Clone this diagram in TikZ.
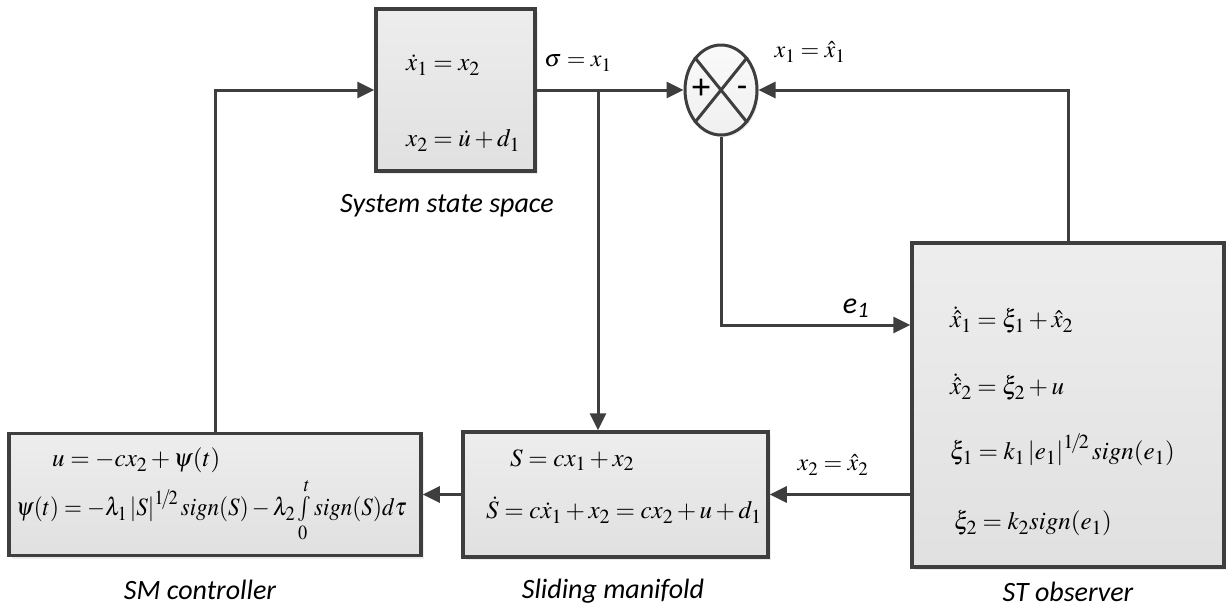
\documentclass[tikz,border=0pt]{standalone}
\usepackage{mathptmx}
\usepackage{fontspec}
\setmainfont{Liberation Serif}
\newfontfamily\capfont{Carlito}
\usetikzlibrary{arrows.meta,shapes.geometric,shadows}
\DeclareMathSizes{25}{25}{20}{16}
\DeclareMathSizes{24}{24}{19}{15}
\definecolor{ink}{HTML}{3E3E3E}
\tikzset{
  blk/.style={draw=ink, line width=3.5pt, top color=gray!14, bottom color=gray!24,
    drop shadow={opacity=0.15, shadow xshift=3pt, shadow yshift=-3pt},
    inner sep=0pt},
  arr/.style={draw=ink, line width=3pt, -{Triangle[length=17pt,width=16pt]}},
  ln/.style={draw=ink, line width=3pt},
  eq/.style={anchor=west, inner sep=0pt, font=\fontsize{25}{30}\selectfont},
  lbl/.style={inner sep=0pt, font=\fontsize{24}{28}\selectfont},
  captext/.style={inner sep=0pt, font=\capfont\itshape\fontsize{28}{32}\selectfont},
}
\begin{document}
\begin{tikzpicture}[x=1pt,y=-1pt]
\useasboundingbox (0,0) rectangle (1226,611);

% blocks
\node[blk, minimum width=159pt, minimum height=162pt] (sys) at (455.5,90) {};
\node[blk, minimum width=312pt, minimum height=324pt] (obs) at (1068,405) {};
\node[blk, minimum width=305pt, minimum height=125pt] (sm) at (615.5,494.5) {};
\node[blk, minimum width=412pt, minimum height=122pt] (ctrl) at (215,494.5) {};

% summing junction
\node[ellipse, draw=ink, line width=3pt, top color=gray!4, bottom color=gray!12,
  minimum width=72pt, minimum height=90pt, inner sep=0pt,
  drop shadow={opacity=0.15, shadow xshift=2pt, shadow yshift=-2pt}] (sum) at (721,90) {};
\draw[ln] (sum.north west) -- (sum.south east);
\draw[ln] (sum.north east) -- (sum.south west);
\node[inner sep=0pt, font=\fontsize{36}{36}\selectfont\bfseries] (plus) at ([xshift=-20pt,yshift=1pt]sum.center) {+};
\node[inner sep=0pt, font=\fontsize{30}{30}\selectfont\bfseries] (minus) at ([xshift=21pt]sum.center) {-};

% block contents
\node[eq] (s1) at (406,65) {$\dot{x}_1 = x_2$};
\node[eq] (s2) at (406,140) {$x_2 = \dot{u} + d_1$};

\node[eq] (o1) at (950,320) {$\dot{\hat{x}}_1 = \xi_1 + \hat{x}_2$};
\node[eq] (o2) at (950,387) {$\dot{\hat{x}}_2 = \xi_2 + u$};
\node[eq] (o3) at (950,450) {$\xi_1 = k_1\left|e_1\right|^{1\!/\!2} sign(e_1)$};
\node[eq] (o4) at (954,523) {$\xi_2 = k_2 sign(e_1)$};

\node[eq] (m1) at (510,460) {$S = cx_1 + x_2$};
\node[eq] (m2) at (486,510) {$\dot{S} = c\dot{x}_1 + x_2 = cx_2 + u + d_1$};

\node[eq] (c1) at (52,460) {$u = -cx_2 + \psi(t)$};
\node[eq, xscale=0.92, transform shape] (c2) at (16,510)
  {$\psi(t) = -\lambda_1\left|S\right|^{1\!/\!2} sign(S) - \lambda_2 \textstyle\int\limits_0^t sign(S)d\tau$};

% signal labels
\node[lbl] (sig) at (578,63) {$\sigma = x_1$};
\node[lbl] (fb1) at (810,52) {$x_1 = \hat{x}_1$};
\node[lbl] (fb2) at (833,465) {$x_2 = \hat{x}_2$};
\node[inner sep=0pt, font=\capfont\itshape\fontsize{30}{30}\selectfont] (err) at (856,308) {e\textsubscript{1}};

% captions
\node[captext] (capsys) at (447,206) {System state space};
\node[captext] (capctrl) at (200,590) {SM controller};
\node[captext] (capsm) at (613,591) {Sliding manifold};
\node[captext] (capobs) at (1068,592) {ST observer};

% connectors
\coordinate (br) at (598,90);
\draw[arr] (sys.east) -- (sum.west);
\draw[arr] (br) -- (br |- sm.north);
\draw[arr] (obs.north) |- (sum.east);
\draw[arr] (sum.south) |- ([yshift=80pt]obs.west);
\draw[arr] (obs.west |- sm.east) -- (sm.east);
\draw[arr] (sm.west) -- (sm.west -| ctrl.east);
\draw[arr] (ctrl.north) |- (sys.west);
\end{tikzpicture}
\end{document}
